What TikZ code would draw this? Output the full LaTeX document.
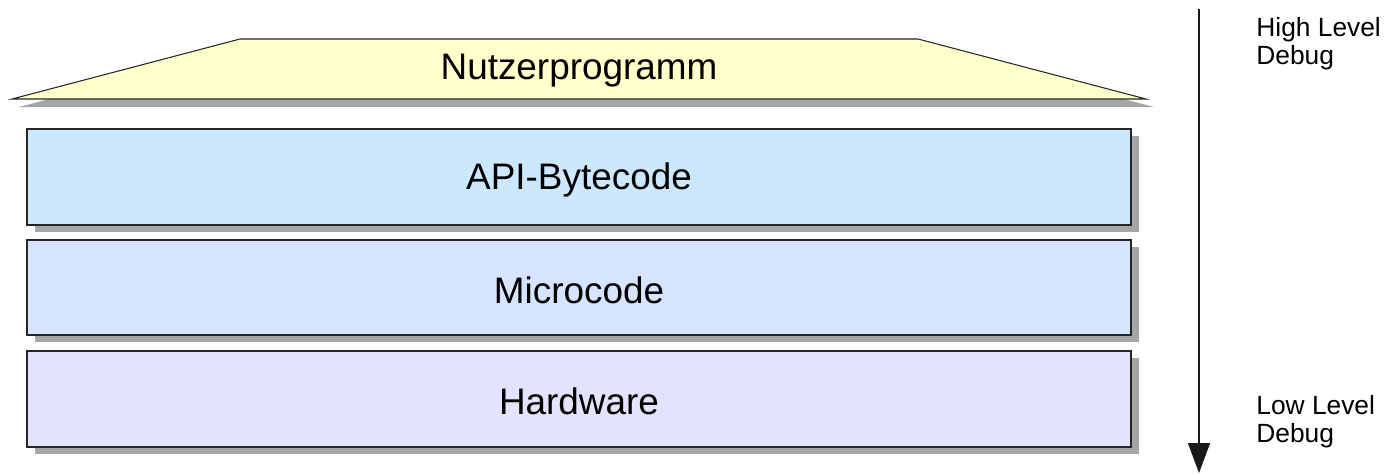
\documentclass[tikz,border=0pt]{standalone}
\usepackage{fontspec}
\setmainfont{Liberation Sans}
\usepackage{xcolor}
\usetikzlibrary{arrows.meta}

\definecolor{userfill}{RGB}{255,255,204}
\definecolor{apifill}{RGB}{204,232,255}
\definecolor{microfill}{RGB}{214,228,255}
\definecolor{hwfill}{RGB}{227,227,253}
\definecolor{shadowgray}{RGB}{166,166,166}

\begin{document}
\begin{tikzpicture}[x=0.02cm, y=-0.02cm,
    layer/.style={draw=black!85, line width=0.6pt},
    drop/.style={fill=shadowgray},
    layertext/.style={font=\fontsize{21}{24}\selectfont},
    sidetext/.style={font=\fontsize{15}{16}\selectfont, align=left, anchor=north west, inner sep=0pt}]
    \useasboundingbox (0,0) rectangle (1395,474);
    % user program on top
    \fill[drop] (19,107) -- (247,47) -- (925,47) -- (1154,107) -- cycle;
    \draw[layer, fill=userfill] (12,99) -- (240,39) -- (918,39) -- (1146,99) -- cycle;
    \node[layertext] (user) at (579,71) {Nutzerprogramm};
    % the three layers below
    \fill[drop] (35,136) rectangle (1139,232);
    \draw[layer, fill=apifill] (27,129) rectangle (1131,225);
    \node[layertext] (api) at (579,180) {API-Bytecode};
    \fill[drop] (35,247) rectangle (1139,342);
    \draw[layer, fill=microfill] (27,240) rectangle (1131,335);
    \node[layertext] (micro) at (579,290) {Microcode};
    \fill[drop] (35,358) rectangle (1139,454);
    \draw[layer, fill=hwfill] (27,351) rectangle (1131,447);
    \node[layertext] (hw) at (579,401) {Hardware};
    % debug direction
    \coordinate (high) at (1199,9);
    \coordinate (low) at (1199,473);
    \draw[black!90, line width=0.6pt, -{Triangle[width=12.5pt, length=17pt]}] (high) -- (low);
    \node[sidetext] (hightext) at (1256,17) {High Level\\Debug};
    \node[sidetext] (lowtext) at (1256,395) {Low Level\\Debug};
\end{tikzpicture}
\end{document}
